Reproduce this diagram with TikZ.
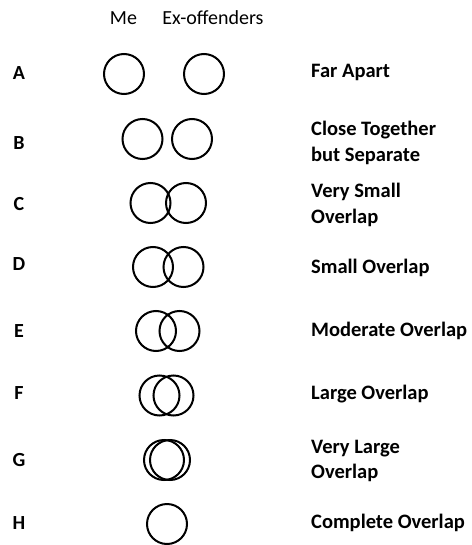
\documentclass[tikz,border=0pt]{standalone}
\usepackage{fontspec}
\setmainfont{Carlito}
\begin{document}
\begin{tikzpicture}[x=1pt,y=-1pt,
  ring/.style={circle,draw,line width=2pt,minimum size=40pt,inner sep=0pt,outer sep=0pt},
  rowlbl/.style={font=\bfseries\fontsize{20}{25}\selectfont,inner sep=0pt},
  desc/.style={font=\bfseries\fontsize{20.5}{25.5}\selectfont,inner sep=0pt,anchor=west,align=left},
  head/.style={font=\fontsize{20}{25}\selectfont,inner sep=0pt}]
\useasboundingbox (0,0) rectangle (471,545);
\node[head] (me) at (123.5,18) {Me};
\node[head] (ex) at (213,18) {Ex-offenders};
% rows
\node[rowlbl] (la) at (19,73) {A};
\node[rowlbl] (lb) at (19,143) {B};
\node[rowlbl] (lc) at (19,204) {C};
\node[rowlbl] (ld) at (19,264) {D};
\node[rowlbl] (le) at (19,331) {E};
\node[rowlbl] (lf) at (19,393) {F};
\node[rowlbl] (lg) at (19,460) {G};
\node[rowlbl] (lh) at (19,523) {H};
% circles
\node[ring] (a1) at (124,74) {};
\node[ring] (a2) at (204,74) {};
\node[ring] (b1) at (142.5,139) {};
\node[ring] (b2) at (192,139) {};
\node[ring] (c1) at (150.5,203) {};
\node[ring] (c2) at (186,203) {};
\node[ring] (d1) at (153,267) {};
\node[ring] (d2) at (183.5,267) {};
\node[ring] (e1) at (156,331) {};
\node[ring] (e2) at (179.5,331) {};
\node[ring] (f1) at (159.5,395.5) {};
\node[ring] (f2) at (173.5,395.5) {};
\node[ring] (g1) at (164,460) {};
\node[ring] (g2) at (170,460) {};
\node[ring] (h1) at (167,524) {};
% descriptions
\node[desc] (da) at (311,72) {Far Apart};
\node[desc] (db) at (311,143) {Close Together\\but Separate};
\node[desc] (dc) at (311,205) {Very Small\\Overlap};
\node[desc] (dd) at (311,268) {Small Overlap};
\node[desc] (de) at (311,331) {Moderate Overlap};
\node[desc] (df) at (311,394) {Large Overlap};
\node[desc] (dg) at (311,461) {Very Large\\Overlap};
\node[desc] (dh) at (311,523) {Complete Overlap};
\end{tikzpicture}
\end{document}
